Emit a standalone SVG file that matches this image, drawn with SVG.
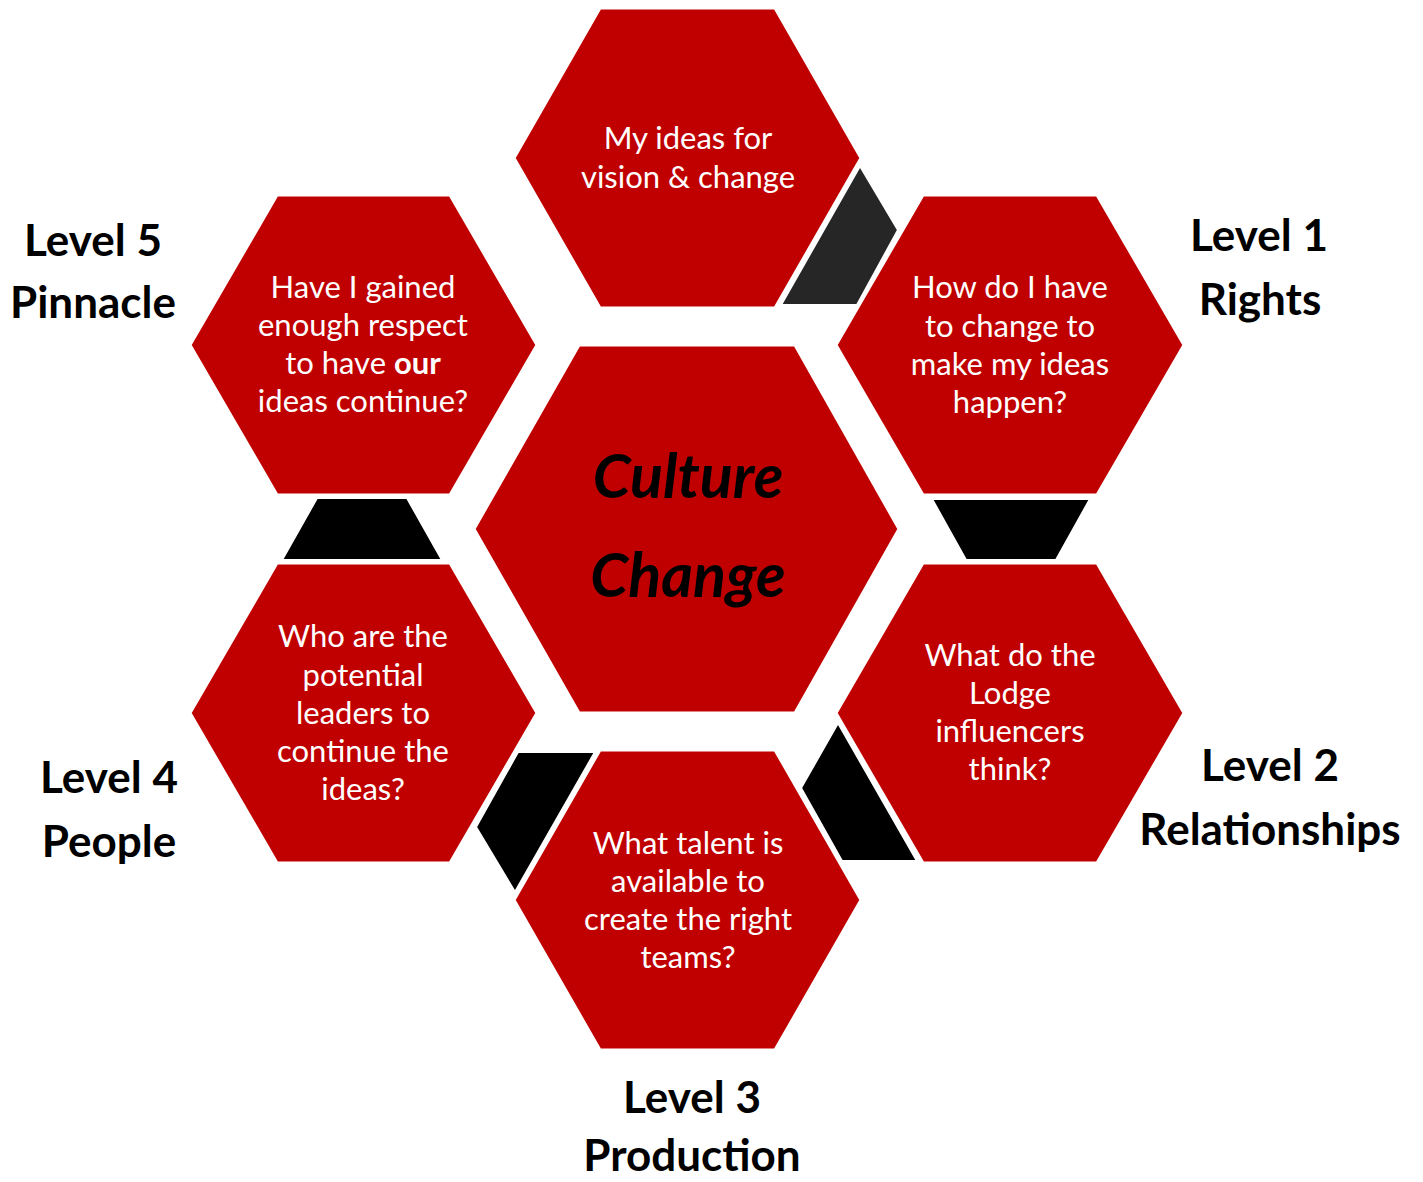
<svg xmlns="http://www.w3.org/2000/svg" width="1423" height="1182" viewBox="0 0 1423 1182">
<style>
.hex{fill:#C00000;stroke:#fff;stroke-width:3}
.con{stroke:#fff;stroke-width:2}
.t{font-family:Lato,"Open Sans",sans-serif;font-size:31px;fill:#fff;text-anchor:middle}
.lab{font-family:Lato,"Open Sans",sans-serif;font-size:44px;font-weight:bold;fill:#000;text-anchor:middle}
.cc{font-family:Lato,"Open Sans",sans-serif;font-size:61px;font-weight:bold;font-style:italic;fill:#000;text-anchor:middle}
</style>
<rect width="1423" height="1182" fill="#fff"/>
<g id="connectors">
<polygon class="con" fill="#262626" points="860,166 898,230 857,305 781,305"/>
<polygon class="con" fill="#000" points="317,498 407,498 442,560 282,560"/>
<polygon class="con" fill="#000" points="932,499 1090,499 1056,560 966,560"/>
<polygon class="con" fill="#000" points="838,723 801,788 842,861 917,861"/>
<polygon class="con" fill="#000" points="518,752 595,752 515,892 476,827"/>
</g>
<g id="center">
<polygon class="hex" points="579,345 795,345 899,529 795,713 579,713 474,529"/>
<text class="cc" x="688" y="498">Culture</text>
<text class="cc" x="688" y="597">Change</text>
</g>
<g id="top">
<polygon class="hex" points="600,8 775,8 861,158 775,308 600,308 514,158"/>
<text class="t" x="688" y="149">My ideas for</text>
<text class="t" x="688" y="188">vision &amp; change</text>
</g>
<g id="level5">
<polygon class="hex" points="277,195 450,195 537,345 450,495 277,495 190,345"/>
<text class="t" x="363" y="298">Have I gained</text>
<text class="t" x="363" y="336">enough respect</text>
<text class="t" x="363" y="374">to have <tspan font-weight="bold">our</tspan></text>
<text class="t" x="363" y="412">ideas continue?</text>
</g>
<g id="level1">
<polygon class="hex" points="923,195 1097,195 1184,345 1097,495 923,495 836,345"/>
<text class="t" x="1010" y="298">How do I have</text>
<text class="t" x="1010" y="337">to change to</text>
<text class="t" x="1010" y="375">make my ideas</text>
<text class="t" x="1010" y="413">happen?</text>
</g>
<g id="level4">
<polygon class="hex" points="277,563 450,563 537,713 450,863 277,863 190,713"/>
<text class="t" x="363" y="647">Who are the</text>
<text class="t" x="363" y="686">potential</text>
<text class="t" x="363" y="724">leaders to</text>
<text class="t" x="363" y="762">continue the</text>
<text class="t" x="363" y="800">ideas?</text>
</g>
<g id="level2">
<polygon class="hex" points="923,563 1097,563 1184,713 1097,863 923,863 836,713"/>
<text class="t" x="1010" y="666">What do the</text>
<text class="t" x="1010" y="704">Lodge</text>
<text class="t" x="1010" y="742">influencers</text>
<text class="t" x="1010" y="780">think?</text>
</g>
<g id="level3">
<polygon class="hex" points="600,750 775,750 861,900 775,1050 600,1050 514,900"/>
<text class="t" x="688" y="854">What talent is</text>
<text class="t" x="688" y="892">available to</text>
<text class="t" x="688" y="930">create the right</text>
<text class="t" x="688" y="968">teams?</text>
</g>
<g id="labels">
<text class="lab" x="93" y="256">Level 5</text>
<text class="lab" x="93" y="318">Pinnacle</text>
<text class="lab" x="1259" y="251">Level 1</text>
<text class="lab" x="1260" y="315">Rights</text>
<text class="lab" x="1270" y="781">Level 2</text>
<text class="lab" x="1270" y="845">Relationships</text>
<text class="lab" x="109" y="793">Level 4</text>
<text class="lab" x="109" y="857">People</text>
<text class="lab" x="692" y="1113">Level 3</text>
<text class="lab" x="692" y="1171">Production</text>
</g>
</svg>
